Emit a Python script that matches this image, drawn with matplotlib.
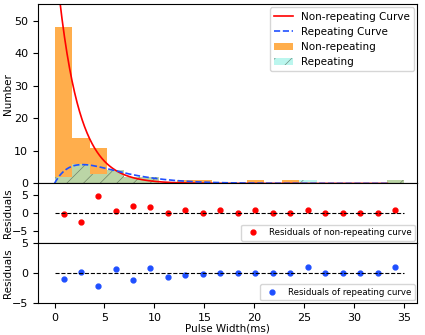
import numpy as np
import matplotlib
matplotlib.use('Agg')
from matplotlib import pyplot as plt

# histogram bins (width 1.75 ms) and counts
bin_edges = np.linspace(0, 35, 21)
nonrep_counts = [48, 14, 11, 4, 2, 2, 0, 1, 1, 0, 0, 1, 0, 1, 0, 0, 0, 0, 0, 1]
rep_counts = [2, 6, 3, 4, 2, 2, 0, 0, 0, 0, 0, 0, 0, 0, 1, 0, 0, 0, 0, 1]

# residual points
res_x = [0.9, 2.6, 4.4, 6.2, 7.9, 9.6, 11.4, 13.1, 14.9, 16.6,
         18.4, 20.1, 21.9, 23.6, 25.4, 27.1, 28.9, 30.6, 32.4, 34.1]
res_nonrep = [-0.3, -2.3, 4.8, 0.6, 2.0, 1.7, 0, 1, 0, 1,
              0, 1, 0, 0, 1, 0, 0, 0, 0, 1]
res_rep = [-1.0, 0.1, -2.1, 0.6, -1.1, 0.9, -0.6, -0.3, -0.1, 0,
           0, 0, 0, 0, 1.0, 0, 0, 0, 0, 1.0]

# fitted curve parameters
exp_amp, exp_tau = 72.0, 2.12
gam_amp, gam_scale = 5.62, 2.8

plt.rcParams['font.size'] = 7.5
plt.rcParams['xtick.labelsize'] = 8
plt.rcParams['ytick.labelsize'] = 8
plt.rcParams['hatch.linewidth'] = 0.5

fig = plt.figure(figsize=(4.25, 3.35), dpi=100)
gs = fig.add_gridspec(3, 1, height_ratios=[3, 1, 1], hspace=0,
                      left=0.089, right=0.982, top=0.987, bottom=0.096)
ax1 = fig.add_subplot(gs[0])
ax2 = fig.add_subplot(gs[1], sharex=ax1)
ax3 = fig.add_subplot(gs[2], sharex=ax1)

centers = (bin_edges[:-1] + bin_edges[1:]) / 2
_, _, p1 = ax1.hist(centers, bins=bin_edges, weights=nonrep_counts,
                    color='darkorange', alpha=0.7, label='Non-repeating')
_, _, p2 = ax1.hist(centers, bins=bin_edges, weights=rep_counts,
                    color='#8ff0e4', alpha=0.6, hatch='//',
                    edgecolor='#3c4c3c', linewidth=0, label='Repeating')

xs = np.linspace(0, 33.3, 400)
l1, = ax1.plot(xs, exp_amp * np.exp(-xs / exp_tau), color='red', lw=1.2,
               label='Non-repeating Curve')
l2, = ax1.plot(xs, gam_amp * xs * np.exp(-xs / gam_scale), color='#2050ff',
               ls='--', lw=1.2, label='Repeating Curve')
ax1.set_ylim(0, 55)
ax1.set_ylabel('Number')
ax1.legend([l1, l2, p1[0], p2[0]],
           ['Non-repeating Curve', 'Repeating Curve', 'Non-repeating', 'Repeating'],
           loc='upper right', fontsize=7.5, handlelength=1.8,
           borderaxespad=0.3)
ax1.tick_params(labelbottom=False)

ax2.plot(res_x, res_nonrep, 'o', color='red', ms=3.5,
         label='Residuals of non-repeating curve')
ax2.plot([0, 35], [0, 0], 'k--', lw=0.8)
ax2.set_ylim(-8.2, 8.2)
ax2.set_yticks([-5, 0, 5])
ax2.set_ylabel('Residuals')
ax2.legend(loc='lower right', fontsize=6.2, borderaxespad=0.3)
ax2.tick_params(labelbottom=False)

ax3.plot(res_x, res_rep, 'o', color='#1f4fff', ms=3.5,
         label='Residuals of repeating curve')
ax3.plot([0, 35], [0, 0], 'k--', lw=0.8)
ax3.set_ylim(-5, 5)
ax3.set_yticks([-5, 0, 5])
ax3.set_ylabel('Residuals')
ax3.legend(loc='lower right', fontsize=6.2, borderaxespad=0.3)
ax3.set_xlabel('Pulse Width(ms)', labelpad=1)

for ax in (ax1, ax2, ax3):
    ax.yaxis.set_label_coords(-0.066, 0.5)

ax1.set_xlim(-1.67, 36.3)
ax3.set_xticks([0, 5, 10, 15, 20, 25, 30, 35])

fig.savefig('out.png', dpi=100)
